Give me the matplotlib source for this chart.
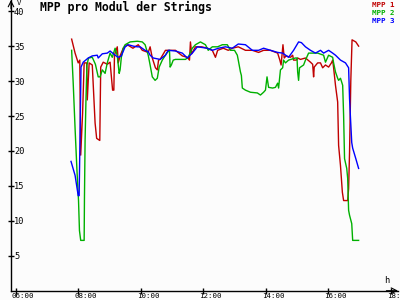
import matplotlib
matplotlib.use("Agg")
import matplotlib.pyplot as plt
import matplotlib.transforms as mtransforms

# Werte (Stunden, Volt)
t1 = [7.79, 7.90, 8.00, 8.05, 8.08, 8.14, 8.19, 8.27, 8.29, 8.35, 8.45, 8.54, 8.59, 8.69,
      8.72, 8.80, 8.93, 9.02, 9.10, 9.14, 9.16, 9.25, 9.28, 9.34, 9.44, 9.57, 9.75, 9.92,
      10.05, 10.24, 10.30, 10.37, 10.47, 10.53, 10.57, 10.62, 10.79, 10.85, 11.11, 11.33,
      11.49, 11.56, 11.59, 11.63, 11.75, 11.95, 12.13, 12.29, 12.39, 12.46, 12.64, 12.80,
      12.93, 13.12, 13.35, 13.57, 13.77, 13.93, 14.15, 14.38, 14.45, 14.49, 14.55, 14.59,
      14.65, 14.79, 14.86, 14.89, 14.98, 15.02, 15.11, 15.27, 15.43, 15.50, 15.53, 15.55,
      15.66, 15.75, 15.82, 15.91, 16.01, 16.10, 16.14, 16.17, 16.23, 16.30, 16.33, 16.39,
      16.45, 16.49, 16.62, 16.65, 16.68, 16.72, 16.76, 16.88, 16.97]
mpp1 = [36.0, 34.0, 32.6, 33.0, 19.4, 25.4, 32.6, 32.6, 27.3, 32.6, 32.3, 24.0, 21.8, 21.5,
        32.0, 32.7, 32.4, 32.7, 28.7, 28.7, 33.7, 34.9, 32.6, 33.6, 34.7, 35.2, 34.7, 35.2,
        34.4, 34.1, 34.9, 33.3, 31.9, 31.6, 33.0, 33.1, 34.4, 34.4, 34.4, 33.6,
        33.4, 33.0, 35.6, 33.9, 34.9, 34.9, 34.7, 34.4, 33.4, 34.4, 34.7, 34.4,
        34.7, 34.9, 34.4, 34.4, 34.1, 34.4, 34.4, 34.0, 33.0, 32.3, 35.2, 33.3,
        33.6, 33.4, 33.7, 33.0, 33.0, 33.3, 33.1, 33.3, 32.7, 32.4, 30.6, 32.0,
        32.6, 32.6, 31.9, 32.3, 32.0, 32.6, 33.0, 31.9, 29.4, 27.0, 20.8, 17.9,
        14.1, 12.9, 12.9, 14.6, 19.8, 30.0, 35.9, 35.6, 35.0]

t2 = [7.79, 7.84, 7.90, 7.96, 8.01, 8.04, 8.08, 8.19, 8.20, 8.22, 8.25, 8.28, 8.33, 8.45,
      8.55, 8.64, 8.70, 8.77, 8.86, 8.93, 9.02, 9.09, 9.18, 9.25, 9.31, 9.34, 9.38, 9.44,
      9.50, 9.66, 9.89, 10.05, 10.14, 10.24, 10.30, 10.37, 10.46, 10.53, 10.59, 10.69,
      10.79, 10.85, 10.92, 10.94, 10.98, 11.04, 11.11, 11.43, 11.52, 11.65, 11.75, 11.91,
      12.07, 12.16, 12.29, 12.46, 12.61, 12.77, 12.87, 13.00, 13.09, 13.12, 13.19, 13.22,
      13.25, 13.35, 13.51, 13.73, 13.83, 13.93, 13.99, 14.04, 14.09, 14.22, 14.31, 14.38,
      14.41, 14.47, 14.54, 14.57, 14.63, 14.73, 14.95, 15.00, 15.02, 15.05, 15.08, 15.21,
      15.27, 15.37, 15.66, 15.85, 15.91, 16.01, 16.14, 16.17, 16.23, 16.30, 16.33, 16.39,
      16.46, 16.49, 16.52, 16.59, 16.62, 16.65, 16.68, 16.75, 16.78, 16.97]
mpp2 = [34.4, 29.7, 23.2, 17.2, 12.9, 8.6, 7.2, 7.2, 13.3, 21.5, 27.7, 32.3, 33.3, 33.4,
        32.4, 30.6, 30.6, 31.6, 31.1, 32.6, 34.0, 33.4, 34.7, 33.6, 31.1, 31.6, 33.4, 34.7,
        35.2, 35.6, 35.7, 35.6, 35.2, 33.7, 32.3, 30.6, 30.1, 30.4, 32.0, 33.0,
        33.7, 34.1, 34.4, 32.0, 32.3, 33.0, 33.1, 33.1, 33.4, 34.7, 35.2, 35.6,
        35.2, 34.4, 34.9, 34.9, 35.2, 35.2, 34.4, 34.4, 33.7, 33.0, 31.3, 30.8,
        29.0, 28.7, 28.4, 28.3, 28.0, 28.4, 28.7, 30.6, 29.1, 29.0, 29.1, 29.7,
        29.0, 31.6, 31.9, 33.0, 32.6, 33.0, 33.3, 33.3, 31.3, 30.1, 31.9, 32.3,
        33.0, 34.0, 34.0, 33.7, 32.7, 33.7, 33.4, 32.6, 31.3, 30.4, 30.1, 30.4,
        29.4, 25.1, 18.9, 17.5, 16.1, 11.5, 10.8, 9.6, 7.2, 7.2]

t3 = [7.77, 7.90, 8.00, 8.03, 8.09, 8.16, 8.32, 8.45, 8.61, 8.64, 8.77, 8.93, 9.02, 9.18,
      9.28, 9.38, 9.50, 9.60, 9.76, 9.89, 9.98, 10.14, 10.24, 10.30, 10.40, 10.62, 10.79,
      10.88, 11.11, 11.33, 11.49, 11.65, 11.81, 12.13, 12.29, 12.49, 12.71, 12.93, 13.12,
      13.35, 13.57, 13.77, 13.93, 14.15, 14.38, 14.54, 14.73, 14.89, 15.05, 15.14, 15.27,
      15.43, 15.59, 15.75, 15.85, 16.01, 16.14, 16.23, 16.39, 16.55, 16.65, 16.68, 16.71,
      16.75, 16.78, 16.88, 16.97]
mpp3 = [18.5, 16.5, 13.6, 13.6, 32.0, 32.7, 33.3, 33.6, 33.7, 33.3, 33.9, 34.0, 34.3, 33.7,
        33.4, 33.6, 34.9, 35.2, 35.0, 34.9, 34.9, 34.4, 34.2, 33.7, 33.3, 33.1, 33.7,
        34.4, 34.3, 34.0, 33.3, 34.0, 34.9, 34.7, 34.4, 34.7, 34.9, 34.7, 35.3,
        35.2, 34.4, 34.4, 34.7, 34.4, 34.1, 34.0, 33.4, 34.4, 35.6, 35.5, 34.9,
        34.4, 34.0, 34.4, 34.0, 34.4, 34.0, 33.7, 33.0, 32.6, 31.9, 27.5, 24.7,
        21.2, 20.4, 18.9, 17.5]

xticks = [6, 8, 10, 12, 14, 16, 18]
xticklabels = ["06:00", "08:00", "10:00", "12:00", "14:00", "16:00", "18:00"]
yticks = [5, 10, 15, 20, 25, 30, 35, 40]

mono = "DejaVu Sans Mono"
bg = "#fcfcfc"

fig = plt.figure(figsize=(4, 3), dpi=100, facecolor=bg)
ax = fig.add_axes([11 / 400, 9.3 / 300, 387 / 400, 290.7 / 300], facecolor=bg)

ax.plot(t1, mpp1, color="#c00000", lw=1.0)
ax.plot(t2, mpp2, color="#00b000", lw=1.0)
ax.plot(t3, mpp3, color="#0000ff", lw=1.0)

ax.set_xlim(5.85, 18.23)
ax.set_ylim(0, 41.6)

for s in ("top", "right"):
    ax.spines[s].set_visible(False)
for s in ("left", "bottom"):
    ax.spines[s].set_linewidth(1.0)

# Pfeile an den Achsenenden
ax.annotate("", xy=(1.0, 0), xytext=(0.97, 0), xycoords="axes fraction",
            arrowprops=dict(arrowstyle="->", lw=0.8, color="k", shrinkA=0, shrinkB=0),
            annotation_clip=False)
ax.annotate("", xy=(0, 1.0), xytext=(0, 0.97), xycoords="axes fraction",
            arrowprops=dict(arrowstyle="->", lw=0.8, color="k", shrinkA=0, shrinkB=0),
            annotation_clip=False)

ax.set_xticks(xticks)
ax.set_xticklabels(xticklabels)
ax.set_yticks(yticks)
ax.set_yticklabels([str(v) for v in yticks])
ax.tick_params(axis="x", direction="inout", length=4.5, width=1, pad=-0.9,
               labelsize=5.4)
ax.tick_params(axis="y", direction="inout", length=4.5, width=1, pad=-4.4,
               labelsize=6.2)

dx = mtransforms.ScaledTranslation(-4 / 100, 0, fig.dpi_scale_trans)
for lbl in ax.get_xticklabels():
    lbl.set_family(mono)
    lbl.set_ha("left")
    lbl.set_transform(lbl.get_transform() + dx)
for lbl in ax.get_yticklabels():
    lbl.set_family(mono)
    lbl.set_ha("left")

ax.text(0.972, 0.035, "h", transform=ax.transAxes, ha="center", va="center",
        family=mono, fontsize=6.2)
ax.text(0.02, 0.99, "V", transform=ax.transAxes, ha="center", va="center",
        family=mono, fontsize=5.2)

fig.text(40 / 400, 1 - 11 / 300, "MPP pro Modul der Strings", family=mono,
         fontsize=8.3, fontweight="bold", va="baseline", ha="left")

legend = [("MPP 1", "#c00000"), ("MPP 2", "#00b000"), ("MPP 3", "#0000ff")]
for i, (name, col) in enumerate(legend):
    fig.text(394 / 400, 1 - (5 + 7.8 * i) / 300, name, color=col, family=mono,
             fontsize=5.4, fontweight="bold", ha="right", va="center")

fig.savefig("out.png", dpi=100, facecolor=bg)
